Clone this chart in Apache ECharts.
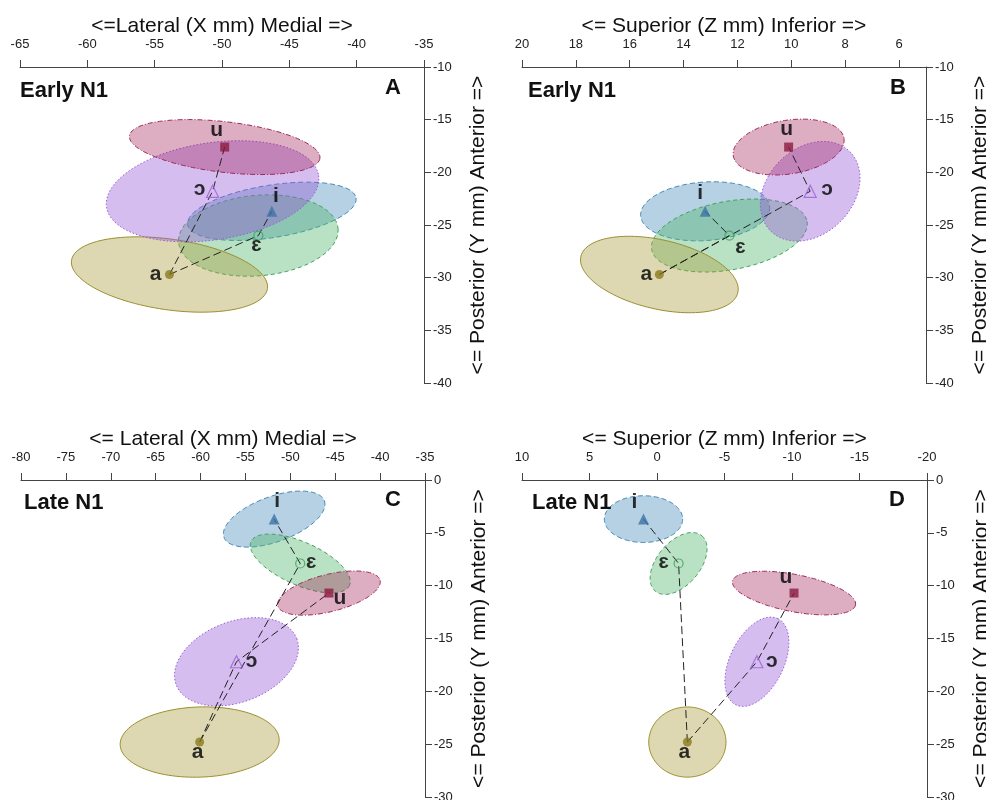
<!DOCTYPE html>
<html><head><meta charset="utf-8">
<script src="https://cdn.jsdelivr.net/npm/echarts@6/dist/echarts.min.js"></script>
<style>html,body{margin:0;padding:0;background:#fff}#c{width:986px;height:800px}</style>
</head><body><div id="c"></div>
<script>
const FF = '"Liberation Sans", Arial, "DejaVu Sans", sans-serif';
const vowels = ['i', 'ɛ', 'a', 'ɔ', 'u'];

// Early N1 mean locations (mm)
const earlyX = [-46.3, -47.3, -53.9, -50.7, -49.8];
const earlyZ = [13.2, 12.3, 14.9, 9.3, 10.1];
const earlyY = [-23.7, -26.0, -29.7, -21.8, -17.6];
// Late N1 mean locations (mm)
const lateX = [-51.8, -48.9, -60.1, -56.0, -45.7];
const lateZ = [1.0, -1.6, -2.25, -7.4, -10.15];
const lateY = [-3.7, -7.9, -24.8, -17.2, -10.7];

// confidence ellipses: semi-axis a (in x-axis units), semi-axis b (in y-axis units), tilt (deg)
const ellA_a = [6.33, 5.94, 7.35, 7.96, 7.12];
const ellA_b = [2.49, 3.82, 3.35, 4.61, 2.40];
const ellA_t = [9, 5, -8.2, 8.5, -6.7];
const ellB_a = [2.40, 2.93, 2.99, 2.08, 2.08];
const ellB_b = [2.78, 3.25, 3.28, 4.06, 2.55];
const ellB_t = [4, 10.3, -13, 45, 9];
const ellC_a = [5.95, 6.0, 8.86, 7.19, 5.87];
const ellC_b = [2.14, 2.03, 3.32, 3.81, 1.76];
const ellC_t = [20, -24, 2, 21, 14];
const ellD_a = [2.9, 2.68, 2.86, 3.55, 4.64];
const ellD_b = [2.21, 2.03, 3.32, 2.54, 1.76];
const ellD_t = [0, 50, 0, 64, -11];

// axis ticks
const ticksAx = [-65, -60, -55, -50, -45, -40, -35];
const ticksAy = [-40, -35, -30, -25, -20, -15, -10];
const ticksBx = [20, 18, 16, 14, 12, 10, 8, 6];
const rangeBx = [5, 20];
const ticksCx = [-80, -75, -70, -65, -60, -55, -50, -45, -40, -35];
const ticksCy = [-30, -25, -20, -15, -10, -5, 0];
const ticksDx = [10, 5, 0, -5, -10, -15, -20];

// connection paths (indices into vowels)
const pathFront = [2, 1, 0]; // a - ɛ - i
const pathBack = [2, 3, 4];  // a - ɔ - u

// ---- styling ----
const vstyle = [
  {fill: 'rgba(70,140,185,0.40)', stroke: '#4389b8', dash: [5, 3], symbol: 'triangle', size: 11, color: '#3c73a5', open: false},
  {fill: 'rgba(80,180,105,0.40)', stroke: '#449f5f', dash: [4, 3], symbol: 'circle', size: 9, color: '#3e9e58', open: true},
  {fill: 'rgba(170,158,60,0.40)', stroke: '#9a9030', dash: null, symbol: 'circle', size: 9, color: '#8a7b1e', open: false},
  {fill: 'rgba(150,90,215,0.40)', stroke: '#985cd6', dash: [1.5, 2], symbol: 'triangle', size: 12, color: '#9a5cd6', open: true},
  {fill: 'rgba(160,30,85,0.36)', stroke: '#9e2a58', dash: [5, 2, 1, 2], symbol: 'rect', size: 9, color: '#8c1a40', open: false}
];
const labelOffsets = [
  [[4, -15], [-2, 10], [-14, 0], [-13, -2], [-8, -17]],
  [[-5, -18], [11, 12], [-13, 0], [17, -2], [-2, -18]],
  [[3, -18], [11, -1], [-2, 10], [15, -1], [11, 5]],
  [[-9, -17], [-15, -1], [-3, 10], [15, -1], [-8, -16]]
];

const grids = [
  {left: 20, top: 67, width: 404, height: 316},
  {left: 522, top: 67, width: 404, height: 316},
  {left: 21, top: 480, width: 404, height: 317},
  {left: 522, top: 480, width: 405, height: 317}
].map(g => Object.assign({outerBoundsMode: 'none', containLabel: false, show: false}, g));

function xAxisCfg(gi, name, min, max, ticks, inverse) {
  return {
    gridIndex: gi, type: 'value', position: 'top', min, max, inverse,
    name, nameLocation: 'middle', nameGap: 30, nameMoveOverlap: false,
    nameTextStyle: {fontSize: 21, color: '#111', fontFamily: FF},
    axisLine: {show: true, onZero: false, lineStyle: {color: '#444', width: 1}},
    axisTick: {show: true, inside: false, length: 7, customValues: ticks, lineStyle: {color: '#444', width: 1}},
    axisLabel: {show: true, customValues: ticks, margin: 16, fontSize: 13, color: '#222', fontFamily: FF},
    splitLine: {show: false}
  };
}
function yAxisCfg(gi, min, max, ticks) {
  return {
    gridIndex: gi, type: 'value', position: 'right', min, max,
    name: '<= Posterior (Y mm) Anterior =>', nameLocation: 'middle', nameGap: 44, nameRotate: 90, nameMoveOverlap: false,
    nameTextStyle: {fontSize: 21, color: '#111', fontFamily: FF},
    axisLine: {show: true, onZero: false, lineStyle: {color: '#444', width: 1}},
    axisTick: {show: true, inside: false, length: 7, customValues: ticks, lineStyle: {color: '#444', width: 1}},
    axisLabel: {show: true, customValues: ticks, margin: 9, fontSize: 13, color: '#222', fontFamily: FF},
    splitLine: {show: false}
  };
}

function ellipseSeries(gi, xs, ys, ea, eb, et) {
  return {
    type: 'custom', xAxisIndex: gi, yAxisIndex: gi, z: 1, silent: true, animation: false,
    encode: {x: 0, y: 1},
    data: xs.map((x, k) => [x, ys[k], ea[k], eb[k], et[k]]),
    renderItem(params, api) {
      const st = vstyle[params.dataIndex];
      const c = api.coord([api.value(0), api.value(1)]);
      const s = api.size([1, 1]);
      const a = api.value(2) * Math.abs(s[0]);
      const b = api.value(3) * Math.abs(s[1]);
      const th = api.value(4) * Math.PI / 180, ct = Math.cos(th), sn = Math.sin(th);
      const pts = [];
      for (let j = 0; j < 120; j++) {
        const t = j / 120 * 2 * Math.PI;
        const ex = a * Math.cos(t), ey = b * Math.sin(t);
        pts.push([c[0] + ex * ct + ey * sn, c[1] - ex * sn + ey * ct]);
      }
      return {type: 'polygon', shape: {points: pts},
        style: {fill: st.fill, stroke: st.stroke, lineWidth: 1, lineDash: st.dash}};
    }
  };
}
function pathSeries(gi, xs, ys, idx) {
  return {
    type: 'line', xAxisIndex: gi, yAxisIndex: gi, z: 3, silent: true, animation: false,
    symbol: 'none', showSymbol: false,
    data: idx.map(k => [xs[k], ys[k]]),
    lineStyle: {color: '#222', width: 1, type: [8, 4]}
  };
}
function pointSeries(gi, xs, ys) {
  return vowels.map((v, k) => {
    const st = vstyle[k];
    return {
      type: 'scatter', xAxisIndex: gi, yAxisIndex: gi, z: 4, silent: true, animation: false,
      symbol: st.symbol, symbolSize: st.size,
      itemStyle: st.open ? {color: 'rgba(255,255,255,0)', borderColor: st.color, borderWidth: 1.2}
                         : {color: st.color, borderWidth: 0},
      data: [[xs[k], ys[k]]],
      label: {show: true, formatter: v, position: 'inside', offset: labelOffsets[gi][k],
        fontSize: 21, fontWeight: 'bold', color: '#000', fontFamily: FF, textBorderWidth: 0}
    };
  });
}

const titleStyle = {fontSize: 22, fontWeight: 'bold', color: '#111', fontFamily: FF};
const option = {
  backgroundColor: '#fff',
  animation: false,
  title: [
    {text: 'Early N1', left: 20, top: 80, padding: 0, textStyle: titleStyle},
    {text: 'A', left: 385, top: 77, padding: 0, textStyle: titleStyle},
    {text: 'Early N1', left: 528, top: 80, padding: 0, textStyle: titleStyle},
    {text: 'B', left: 890, top: 77, padding: 0, textStyle: titleStyle},
    {text: 'Late N1', left: 24, top: 492, padding: 0, textStyle: titleStyle},
    {text: 'C', left: 385, top: 489, padding: 0, textStyle: titleStyle},
    {text: 'Late N1', left: 532, top: 492, padding: 0, textStyle: titleStyle},
    {text: 'D', left: 889, top: 489, padding: 0, textStyle: titleStyle}
  ],
  grid: grids,
  xAxis: [
    xAxisCfg(0, '<=Lateral (X mm) Medial =>', ticksAx[0], ticksAx[ticksAx.length - 1], ticksAx, false),
    xAxisCfg(1, '<= Superior (Z mm) Inferior =>', rangeBx[0], rangeBx[1], ticksBx, true),
    xAxisCfg(2, '<= Lateral (X mm) Medial =>', ticksCx[0], ticksCx[ticksCx.length - 1], ticksCx, false),
    xAxisCfg(3, '<= Superior (Z mm) Inferior =>', ticksDx[ticksDx.length - 1], ticksDx[0], ticksDx, true)
  ],
  yAxis: [
    yAxisCfg(0, ticksAy[0], ticksAy[ticksAy.length - 1], ticksAy),
    yAxisCfg(1, ticksAy[0], ticksAy[ticksAy.length - 1], ticksAy),
    yAxisCfg(2, ticksCy[0], ticksCy[ticksCy.length - 1], ticksCy),
    yAxisCfg(3, ticksCy[0], ticksCy[ticksCy.length - 1], ticksCy)
  ],
  series: [
    ellipseSeries(0, earlyX, earlyY, ellA_a, ellA_b, ellA_t),
    ellipseSeries(1, earlyZ, earlyY, ellB_a, ellB_b, ellB_t),
    ellipseSeries(2, lateX, lateY, ellC_a, ellC_b, ellC_t),
    ellipseSeries(3, lateZ, lateY, ellD_a, ellD_b, ellD_t),
    pathSeries(0, earlyX, earlyY, pathFront), pathSeries(0, earlyX, earlyY, pathBack),
    pathSeries(1, earlyZ, earlyY, pathFront), pathSeries(1, earlyZ, earlyY, pathBack),
    pathSeries(2, lateX, lateY, pathFront), pathSeries(2, lateX, lateY, pathBack),
    pathSeries(3, lateZ, lateY, pathFront), pathSeries(3, lateZ, lateY, pathBack),
    ...pointSeries(0, earlyX, earlyY),
    ...pointSeries(1, earlyZ, earlyY),
    ...pointSeries(2, lateX, lateY),
    ...pointSeries(3, lateZ, lateY)
  ]
};
const chart = echarts.init(document.getElementById('c'), null, {renderer: 'canvas', width: 986, height: 800});
chart.setOption(option);
</script>
</body></html>
